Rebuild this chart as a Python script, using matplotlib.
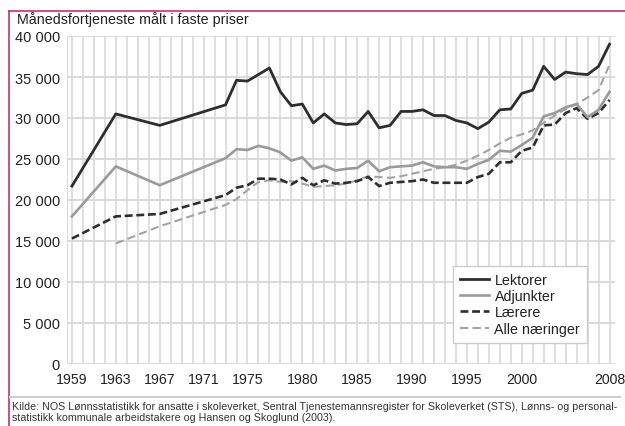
import matplotlib
matplotlib.use("Agg")
import matplotlib.pyplot as plt
from matplotlib.ticker import FuncFormatter, FixedLocator
from matplotlib.lines import Line2D
import numpy as np

plt.rcParams['font.family'] = ['Liberation Sans', 'DejaVu Sans']

years = [1959, 1963, 1967, 1973, 1974, 1975, 1976, 1977, 1978, 1979, 1980,
         1981, 1982, 1983, 1984, 1985, 1986, 1987, 1988, 1989, 1990,
         1991, 1992, 1993, 1994, 1995, 1996, 1997, 1998, 1999, 2000,
         2001, 2002, 2003, 2004, 2005, 2006, 2007, 2008]

lektorer = [21700, 30500, 29100, 31600, 34600, 34500, 35300, 36100, 33200, 31500, 31700,
            29400, 30500, 29400, 29200, 29300, 30800, 28800, 29100, 30800, 30800,
            31000, 30300, 30300, 29700, 29400, 28700, 29500, 31000, 31100, 33000,
            33400, 36300, 34700, 35600, 35400, 35300, 36300, 39000]

adjunkter = [18000, 24100, 21800, 25100, 26200, 26100, 26600, 26300, 25800, 24800, 25200,
             23800, 24200, 23600, 23800, 23900, 24800, 23500, 24000, 24100, 24200,
             24600, 24100, 24000, 24000, 23800, 24400, 24900, 26000, 25900, 26700,
             27600, 30200, 30600, 31300, 31700, 30100, 31000, 33200]

laerere = [15300, 18000, 18300, 20600, 21500, 21800, 22600, 22600, 22500, 21900, 22700,
           21800, 22400, 22000, 22100, 22300, 22800, 21700, 22100, 22200, 22300,
           22500, 22100, 22100, 22100, 22100, 22800, 23200, 24600, 24600, 26000,
           26400, 29100, 29200, 30600, 31200, 29900, 30600, 32200]

alle = [None, 14700, 16800, 19400, 20100, 21200, 22200, 22400, 22200, 22300, 22000,
        21600, 21700, 21800, 22000, 22400, 22900, 22800, 22700, 22900, 23200,
        23500, 23800, 24000, 24300, 24800, 25400, 26100, 26900, 27600, 28000,
        28500, 29400, 30300, 31100, 31700, 32500, 33400, 36500]

series_labels = ["Lektorer", "Adjunkter", "Lærere", "Alle næringer"]
xtick_years = [1959, 1963, 1967, 1971, 1975, 1980, 1985, 1990, 1995, 2000, 2008]
yticks = [0, 5000, 10000, 15000, 20000, 25000, 30000, 35000, 40000]
title = "Månedsfortjeneste målt i faste priser"
caption = ("Kilde: NOS Lønnsstatistikk for ansatte i skoleverket, Sentral Tjenestemannsregister for Skoleverket (STS), Lønns- og personal-\n"
           "statistikk kommunale arbeidstakere og Hansen og Skoglund (2003).")

W, H = 625, 427
fig = plt.figure(figsize=(W / 100, H / 100), dpi=100)
fig.patch.set_facecolor('white')

L, R, T, B = 67, 615, 37, 365
ax = fig.add_axes([L / W, 1 - B / H, (R - L) / W, (B - T) / H])

def arr(v):
    return np.array([np.nan if x is None else x for x in v], dtype=float)

yrs = np.array(years)
ax.plot(yrs, arr(alle), color='#a3a3a3', lw=1.5, dashes=(4, 2), label=series_labels[3], zorder=3)
ax.plot(yrs, arr(laerere), color='#2e2e2e', lw=1.9, dashes=(3, 1.4), label=series_labels[2], zorder=4)
ax.plot(yrs, arr(adjunkter), color='#9a9a9a', lw=1.9, label=series_labels[1], zorder=4)
ax.plot(yrs, arr(lektorer), color='#2e2e2e', lw=2.0, label=series_labels[0], zorder=5)

ax.set_xlim(1958.55, 2008.5)
ax.set_ylim(0, 40000)

grid_c = '#d9d9d9'
for yy in range(1959, 2009):
    ax.axvline(yy, color=grid_c, lw=1.2, zorder=1)
for v in yticks:
    ax.axhline(v, color=grid_c, lw=1.4, zorder=1)
ax.axvline(1958.55, color=grid_c, lw=1.4, zorder=1)

for s in ax.spines.values():
    s.set_visible(False)

ax.xaxis.set_major_locator(FixedLocator(xtick_years))
ax.yaxis.set_major_locator(FixedLocator(yticks))
ax.yaxis.set_major_formatter(FuncFormatter(lambda v, p: f"{int(v):,}".replace(",", " ")))
ax.tick_params(axis='both', length=0, colors='#222222')
ax.tick_params(axis='y', labelsize=10.5, pad=5)
ax.tick_params(axis='x', labelsize=10.2, pad=5.5)

handles = [
    Line2D([], [], color='#2e2e2e', lw=2.0),
    Line2D([], [], color='#9a9a9a', lw=1.9),
    Line2D([], [], color='#2e2e2e', lw=1.9, dashes=(3, 1.4)),
    Line2D([], [], color='#a3a3a3', lw=1.5, dashes=(4, 2)),
]
leg = ax.legend(handles, series_labels, loc='upper left',
                bbox_to_anchor=((453 - L) / (R - L), (B - 267) / (B - T)),
                borderaxespad=0, fontsize=10.3, handlelength=2.0, handletextpad=0.4,
                labelspacing=0.15, borderpad=0.5, fancybox=False, framealpha=1,
                edgecolor='#cccccc', frameon=True)
leg.get_frame().set_linewidth(1.0)
for t in leg.get_texts():
    t.set_color('#222222')

fig.text(17 / W, 1 - 20 / H, title, fontsize=10.3, color='#222222', va='center', ha='left')

# frame lines
fig.add_artist(Line2D([9 / W, 1.0], [1 - 12 / H, 1 - 12 / H], color='#c4307c', lw=1.2))
fig.add_artist(Line2D([9 / W, 9 / W], [0, 1 - 12 / H], color='#c4307c', lw=1.2))
fig.add_artist(Line2D([10 / W, 620 / W], [1 - 398 / H, 1 - 398 / H], color='#cfcfcf', lw=1.5))

fig.text(12 / W, 1 - 402 / H, caption, fontsize=7.7, color='#333333', va='top', ha='left',
         linespacing=1.1)

fig.savefig("out.png", dpi=100)
